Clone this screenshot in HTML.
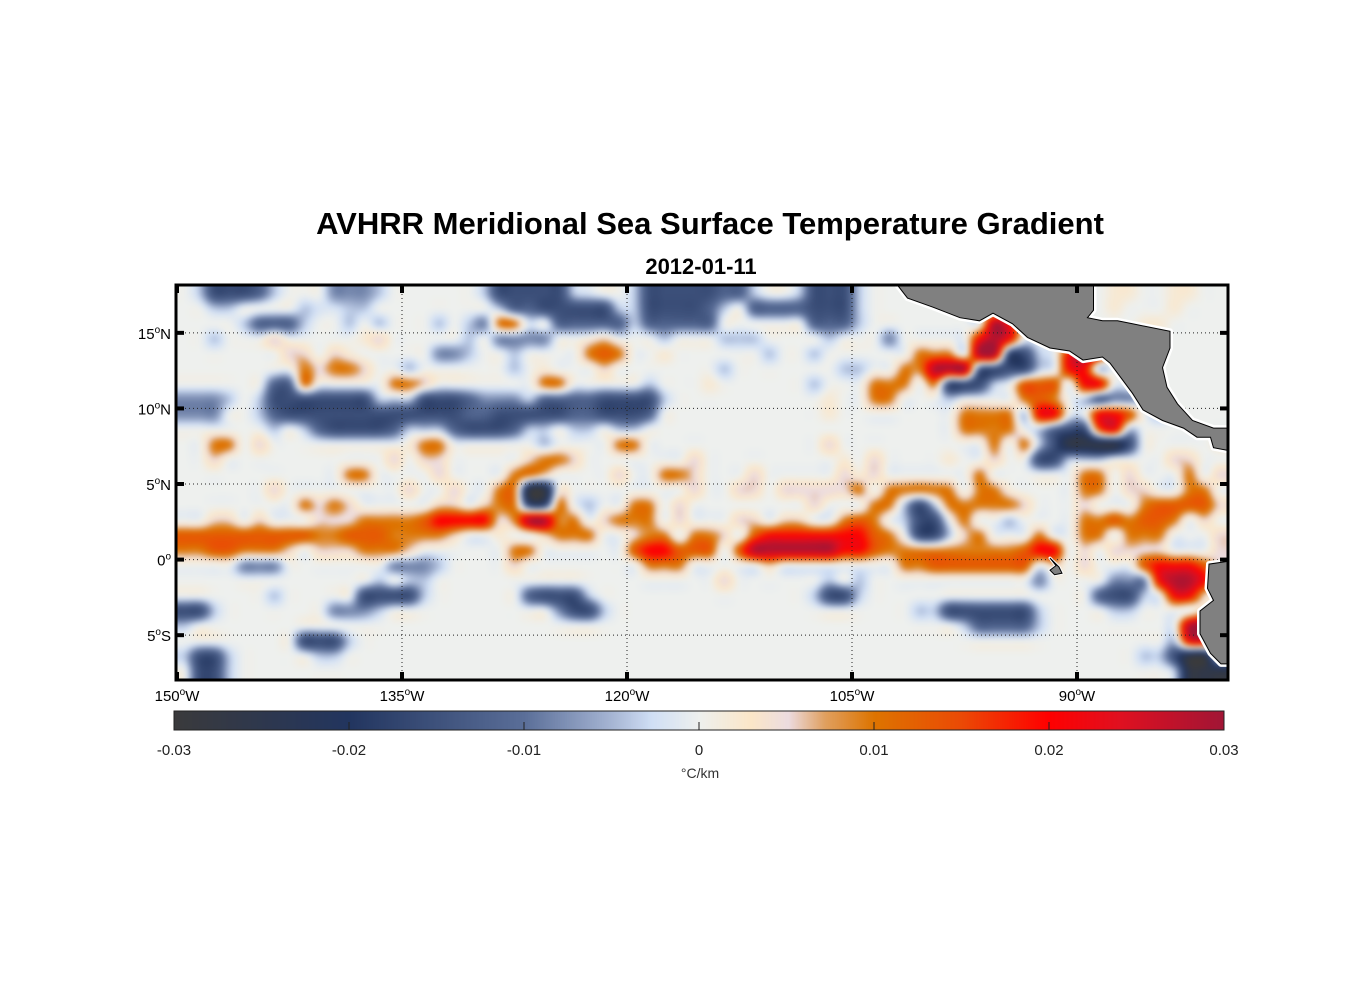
<!DOCTYPE html>
<html><head><meta charset="utf-8">
<style>
html,body{margin:0;padding:0;background:#fff;}
#wrap{position:relative;width:1356px;height:1000px;overflow:hidden;font-family:"Liberation Sans",Arial,sans-serif;}
canvas{position:absolute;left:0;top:0;}
svg{position:absolute;left:0;top:0;}
</style></head>
<body>
<div id="wrap">
<canvas id="heat" width="1356" height="1000"></canvas>
<svg id="ov" width="1356" height="1000" xmlns="http://www.w3.org/2000/svg">
  <text x="710" y="234" text-anchor="middle" font-size="31" font-weight="bold" font-family="Liberation Sans, sans-serif">AVHRR Meridional Sea Surface Temperature Gradient</text>
  <text x="701" y="274" text-anchor="middle" font-size="22" font-weight="bold" font-family="Liberation Sans, sans-serif">2012-01-11</text>
  <g id="grid"></g>
  <g id="land"></g>
  <g id="frame"></g>
  <g id="labels"></g>
  <g id="cbar"></g>
</svg>
</div>
<script>
// ---- data ----
const lonTicks = [-150, -135, -120, -105, -90];
const lonTickLabels = ["150", "135", "120", "105", "90"];
const latTicks = [15, 10, 5, 0, -5];
const latTickLabels = ["15", "10", "5", "0", "5"];
const latHemi = ["N", "N", "N", "", "S"];
const cbarTicks = [-0.03, -0.02, -0.01, 0, 0.01, 0.02, 0.03];
const cbarTickLabels = ["-0.03", "-0.02", "-0.01", "0", "0.01", "0.02", "0.03"];
const cbarUnits = "\u00B0C/km";
// grid: lon -150..-80 (1 deg cols), lat 18..-8 (1 deg rows)
const gridLon0 = -150, gridLat0 = 18.1;
const codeChars = ["A", "B", "b", "C", "c", "-", ".", "+", "o", "O", "P", "R", "X"];
const codeValues = [-0.026, -0.0155, -0.012, -0.008, -0.004, -0.002, 0, 0.002, 0.005, 0.0095, 0.013, 0.02, 0.028];
const gridRows = [
".cBBBbc... CCCc...... cBBBBBc-.. cBBBBBbbc. .cBBBc.... .......... ..++..++..",
"..cc....c- -cc....... .cbbBBBBBc cBBBBbc.bb bbBBBc.... .......... ..+...+...",
"....cbbbc. .c.c...c.c COO-.bbbbb cbbbbb.... ..bbbc.... ....XR.... ....++....",
"..c...o... ..+o.....c .CCCC..+o. ..c...ccc. ...c...C.. ...RXR.... ....+.....",
".......oo. o+.....CCc ..c....OPO ..+......c ..c......O OO.XXBBc.R XR........",
"........Oo OOo..c.... ..c.+...o. ......c... ....cc..OO XXXbBBBc.R Rc........",
"......bbO. ....OOo... ....OO.... .c...+.... ..c...OOO. OBBBc.PPP. RR........",
"CCCc.cBBBB BBBcccBBBb CCCcbbbbBB BBc....... ...+..OO.. .c....OPO. cbCCc.....",
"CCC..cbBBB BBBBBBBBBb bBBBBBbbBB Bb........ ...+...... ..OOOOcRR. .RRP.c....",
"......c.cb BBBBbcccbB BBbcc.cc.c c......... .......... ..OOOO.cbB BPRc......",
"..OO.o.... .....+OO.. ....c....O O......... ...o...... ....O.OcBA AAAB.....+",
"..o....... ....o.oo.. ...oOOo... ....o..... ....+.o... .+..o..BBc cc....oo..",
".......... .OO....o.. ..OOo....o ..OOo...o. ....o+o... ...O...... OO.o...O.o",
"......o... .....o..o. .OOAA+.... ....o..oo. oooooO.OOO OO.OO+.... OO.oo..OO.",
"........Oo Oo.....oo. oOOBBO.c.. OO.o...... ..o...OOcB cOOOOOo... o...OPPPPo",
"..oo.o...o ooOOOOPRRR RoOXXOO.oO OO.o...oo. oo..OPO.cB B.O..c.... OOPOPPO.o.",
"PPPPPPPPPO OPPPOOOOo. .+..oOOO.. oOO.OOo.PR RRRRRRPO.B BcoO...O.. OO.OOO...o",
"OOPPOOOo.o ooOOOo.... ..OO...... PRRPPP.PXX XXXXRRPOOO OOOOOOPRR. o.oooo...o",
"....CCC... ....CCCc.. ..o....... .OOO.....o ........OO PPPPPPP.o. o...PRRRPo",
".......... ...c.cc... .......... ......o... ...c.c.... .......C.. ..CCCRXXRo",
"......c... ..BBBBc... ...bBBBc.. .......... ..cBBc.... .......... .bBBc.RRo.",
"BBc....... CCCc...... .....CBBc. .......... .........c cBBBBBBc.. ..cc....o.",
"c......... .......... .......... .......... .......... ..cbbbbc.. .......XXc",
"........BB Bc........ .......... .......... .......... .......... ......cRR.",
"cBBc.....c c......... .......... .......... .......... .......... ....ccBAA.",
".BBc...... .......... .......... .......... .......... .......... ......cAAA"
];

// ---- scales ----
const X0 = 177, X1 = 1227, Y0 = 286, Y1 = 679;
const lonMin = -150, lonMax = -80, latMax = 18.1, latMin = -7.9;
function xScale(lon){ return X0 + (lon - lonMin) / (lonMax - lonMin) * (X1 - X0); }
function yScale(lat){ return Y0 + (latMax - lat) / (latMax - latMin) * (Y1 - Y0); }
const CB0 = 174, CB1 = 1224, CBY = 711, CBH = 19;
function cScale(v){ return CB0 + (v + 0.03) / 0.06 * (CB1 - CB0); }

const cmapPos = [0, 0.167, 0.333, 0.42, 0.455, 0.5, 0.55, 0.585, 0.62, 0.667, 0.75, 0.833, 0.9, 1];
const cmapCol = ["#3a3a3c","#22355f","#5a6e98","#a9b8d6","#d0dff5","#eef0ee","#fbe6c8","#ecdce0","#e0a060","#dd7400","#eb4a05","#ff0000","#e01020","#a11535"];
function hex(h){ return [parseInt(h.substr(1,2),16),parseInt(h.substr(3,2),16),parseInt(h.substr(5,2),16)]; }
function cmap(v){
  let t = Math.max(0, Math.min(1, (v + 0.03) / 0.06));
  for (let i = 0; i < cmapPos.length - 1; i++) {
    if (t <= cmapPos[i+1]) {
      const f = (t - cmapPos[i]) / (cmapPos[i+1] - cmapPos[i]);
      const a = hex(cmapCol[i]), b = hex(cmapCol[i+1]);
      return [0,1,2].map(k => Math.round(a[k] + (b[k]-a[k]) * f));
    }
  }
  return hex(cmapCol[cmapCol.length-1]);
}
function decode(ch){ const i = codeChars.indexOf(ch); return i < 0 ? 0 : codeValues[i]; }

// ---- heatmap: bicubic (Catmull-Rom) value field, then color-map, then soften ----
const rows = gridRows.map(r => r.replace(/ /g, ""));
const nr = rows.length, nc = rows[0].length;
const vals = rows.map(r => Array.from(r).map(decode));
function g(r, c){ r = Math.max(0, Math.min(nr - 1, r)); c = Math.max(0, Math.min(nc - 1, c)); return vals[r][c]; }
function cr(p0, p1, p2, p3, t){
  return 0.5 * ((2*p1) + (-p0 + p2)*t + (2*p0 - 5*p1 + 4*p2 - p3)*t*t + (-p0 + 3*p1 - 3*p2 + p3)*t*t*t);
}
function valAt(fc, fr){
  const c0 = Math.floor(fc), r0 = Math.floor(fr);
  const tc = fc - c0, tr = fr - r0;
  const rs = [];
  for (let k = -1; k <= 2; k++) rs.push(cr(g(r0+k,c0-1), g(r0+k,c0), g(r0+k,c0+1), g(r0+k,c0+2), tc));
  return cr(rs[0], rs[1], rs[2], rs[3], tr);
}
const PAD = 12;
const W = X1 - X0, H = Y1 - Y0;
const off = document.createElement("canvas");
off.width = W + 2*PAD; off.height = H + 2*PAD;
const octx = off.getContext("2d");
const im = octx.createImageData(off.width, off.height);
for (let py = 0; py < off.height; py++) for (let px = 0; px < off.width; px++) {
  const lon = lonMin + (px - PAD + 0.5) / W * (lonMax - lonMin);
  const lat = latMax - (py - PAD + 0.5) / H * (latMax - latMin);
  const col = cmap(valAt((lon - gridLon0) - 0.5, (gridLat0 - lat) - 0.5));
  const p = (py * off.width + px) * 4;
  im.data[p] = col[0]; im.data[p+1] = col[1]; im.data[p+2] = col[2]; im.data[p+3] = 255;
}
octx.putImageData(im, 0, 0);
const ctx = document.getElementById("heat").getContext("2d");
ctx.save();
ctx.beginPath(); ctx.rect(X0, Y0, W, H); ctx.clip();
ctx.filter = "blur(2.5px)";
ctx.drawImage(off, X0 - PAD, Y0 - PAD);
ctx.restore();
ctx.filter = "none";
// colorbar
for (let x = CB0; x < CB1; x++) {
  const v = -0.03 + (x - CB0 + 0.5) / (CB1 - CB0) * 0.06;
  const col = cmap(v);
  ctx.fillStyle = "rgb(" + col.join(",") + ")";
  ctx.fillRect(x, CBY, 1, CBH);
}

// ---- overlays ----
const NS = "http://www.w3.org/2000/svg";
function el(tag, attrs, parent){
  const e = document.createElementNS(NS, tag);
  for (const k in attrs) e.setAttribute(k, attrs[k]);
  parent.appendChild(e); return e;
}
const gGrid = document.getElementById("grid");
const gLand = document.getElementById("land");
const gFrame = document.getElementById("frame");
const gLab = document.getElementById("labels");
const gCb = document.getElementById("cbar");

lonTicks.forEach((lon, i) => {
  const x = xScale(lon);
  if (i > 0) {
    const ln = el("line", {x1:x, y1:Y0, x2:x, y2:Y1, stroke:"#222", "stroke-width":1, "stroke-dasharray":"1,3"}, gGrid);
    
    
  }
  const t = el("text", {x:x, y:701, "text-anchor":"middle", "font-size":15}, gLab);
  
  
  t.innerHTML = lonTickLabels[i] + '<tspan dy="-6" font-size="10">o</tspan><tspan dy="6">W</tspan>';
  [[Y0, Y0 + 7],[Y1 - 7, Y1]].forEach(p => {
    const tk = el("line", {x1:x, y1:p[0], x2:x, y2:p[1], stroke:"#000", "stroke-width":4}, gFrame);
    
    
  });
});
latTicks.forEach((lat, i) => {
  const y = yScale(lat);
  const ln = el("line", {x1:X0, y1:y, x2:X1, y2:y, stroke:"#222", "stroke-width":1, "stroke-dasharray":"1,3"}, gGrid);
  
  
  const t = el("text", {x:171, y:y + 6, "text-anchor":"end", "font-size":15}, gLab);
  
  
  t.innerHTML = latTickLabels[i] + '<tspan dy="-6" font-size="10">o</tspan><tspan dy="6">' + latHemi[i] + '</tspan>';
  [[X0, X0 + 7],[X1 - 7, X1]].forEach(p => {
    const tk = el("line", {x1:p[0], y1:y, x2:p[1], y2:y, stroke:"#000", "stroke-width":4}, gFrame);
    
    
  });
});

// land outlines (lon/lat)
const centralAmerica = [[-102,18.2],[-101.3,17.3],[-99.6,16.7],[-97.8,16.0],[-96.5,15.8],[-95.6,16.3],[-94.3,15.6],[-93.3,14.7],[-91.8,14.0],[-90.5,13.8],[-89.6,13.2],[-88.3,13.4],[-87.8,13.0],[-86.9,11.8],[-86.3,11.0],[-85.6,9.9],[-84.3,9.2],[-82.9,8.7],[-82,8.1],[-81.1,8.1],[-80.9,7.4],[-79.8,7.2],[-79.8,8.7],[-80.9,8.7],[-82.3,9.2],[-83.3,10.3],[-84,11.4],[-84.3,12.7],[-83.8,14.0],[-83.8,15.1],[-86.3,15.6],[-87.3,15.8],[-88.3,15.8],[-89.3,16.0],[-88.9,16.5],[-88.9,18.2]];
const southAmerica = [[-79.8,-0.1],[-81.2,-0.3],[-81.3,-1.9],[-80.9,-2.7],[-81.8,-3.4],[-81.8,-4.9],[-81.1,-6.2],[-80.4,-6.9],[-79.8,-6.9]];
const galapagos = [[-91.8,0.1],[-91.2,-0.5],[-91,-0.9],[-91.5,-1],[-91.8,-0.7],[-91.4,-0.4]];
const defs = el("defs", {}, document.getElementById("ov"));
const cp = el("clipPath", {id:"mapclip"}, defs);
el("rect", {x:X0, y:Y0, width:X1 - X0, height:Y1 - Y0}, cp);
gLand.setAttribute("clip-path", "url(#mapclip)");
[[centralAmerica,'central-america-land',6],[southAmerica,'south-america-land',6],[galapagos,'galapagos-islands',3]].forEach(tr => {
  const pts = tr[0].map(p => xScale(p[0]).toFixed(1) + "," + yScale(p[1]).toFixed(1)).join(" ");
  const halo = el("polygon", {points:pts, fill:"#fff", stroke:"#fff", "stroke-width":tr[2], "stroke-linejoin":"round"}, gLand);
  
  
  const pg = el("polygon", {points:pts, fill:"#808080", stroke:"#000", "stroke-width":1}, gLand);
  
  
});

const fr = el("rect", {x:X0 - 1, y:Y0 - 1, width:X1 - X0 + 2, height:Y1 - Y0 + 2, fill:"none", stroke:"#000", "stroke-width":3}, gFrame);



// colorbar ticks & labels
const cbBox = el("rect", {x:CB0, y:CBY, width:CB1 - CB0, height:CBH, fill:"none", stroke:"#222", "stroke-width":1}, gCb);


cbarTicks.forEach((v, i) => {
  const x = cScale(v);
  if (i > 0 && i < cbarTicks.length - 1) {
    const tk = el("line", {x1:x, y1:CBY + CBH - 8, x2:x, y2:CBY + CBH, stroke:"#222", "stroke-width":1}, gCb);
    
    
  }
  const t = el("text", {x:x, y:755, "text-anchor":"middle", "font-size":15, fill:"#222"}, gCb);
  
  
  t.textContent = cbarTickLabels[i];
});
const ut = el("text", {x:700, y:778, "text-anchor":"middle", "font-size":14, fill:"#333"}, gCb);


ut.textContent = cbarUnits;
</script>
</body></html>
